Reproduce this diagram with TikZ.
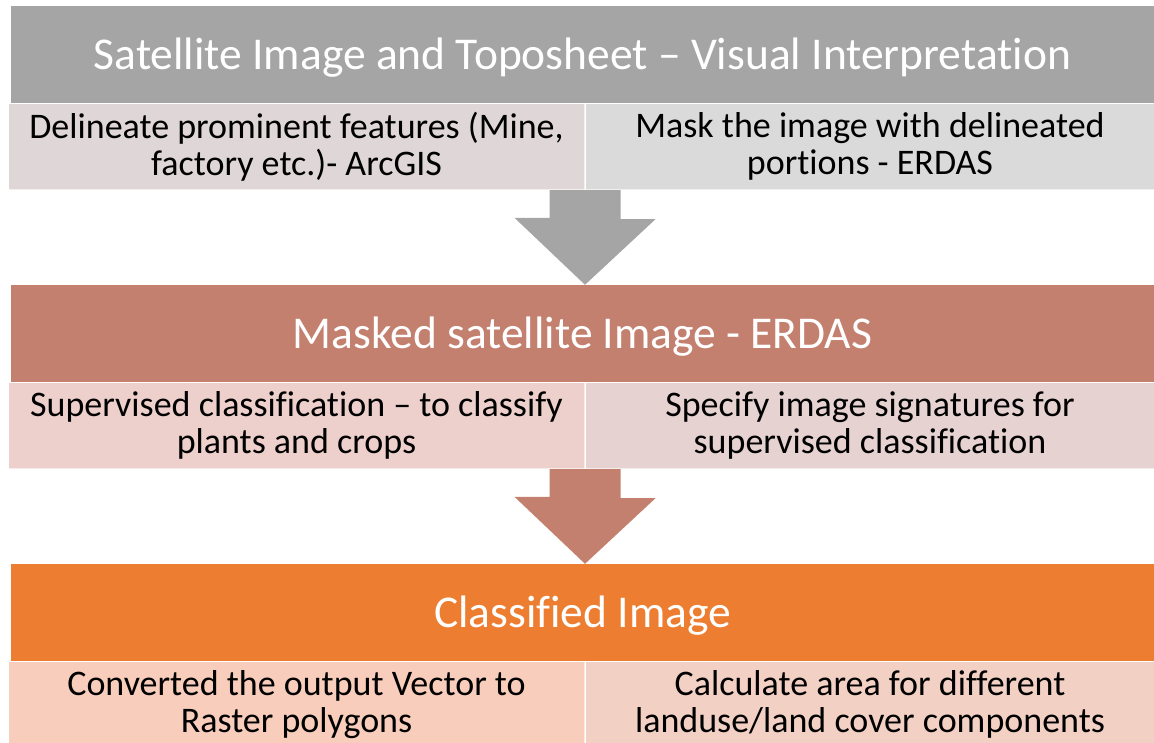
\documentclass[tikz,border=0pt]{standalone}
\usepackage{fontspec}
\setmainfont{Carlito}[Ligatures={TeX,NoCommon}]
\usetikzlibrary{positioning,calc}

\definecolor{greyhead}{HTML}{A5A5A5}
\definecolor{greyleft}{HTML}{DFD7D7}
\definecolor{greyright}{HTML}{DADADA}
\definecolor{rusthead}{HTML}{C4806F}
\definecolor{rustleft}{HTML}{EDD0CB}
\definecolor{rustright}{HTML}{E6D3D1}
\definecolor{orangehead}{HTML}{ED7D31}
\definecolor{orangeleft}{HTML}{F8CDBB}
\definecolor{orangeright}{HTML}{F2D0C4}

\begin{document}
\begin{tikzpicture}[x=1pt, y=-1pt,
  head/.style={fill=#1, text=white, minimum width=1143pt, minimum height=97pt,
    inner sep=0pt, text depth=2pt, font=\fontsize{45.5}{50}\selectfont},
  cell/.style={fill=#1, draw=white, draw opacity=0.6, line width=1pt,
    minimum height=86pt, inner sep=0pt, align=center,
    font=\fontsize{36}{37}\selectfont},
  cellL/.style={cell=#1, minimum width=576pt},
  cellR/.style={cell=#1, minimum width=569pt},
  blockarrow/.style={fill=#1}
]
\useasboundingbox (0,0) rectangle (1154,742);

% Step 1 (grey)
\node[head=greyhead] (h1) at (582.5,54.5) {Satellite Image and Toposheet – Visual Interpretation};
\node[cellL=greyleft, below left=0pt and -2.5pt of h1.south] (s1L)
  {Delineate prominent features (Mine,\\factory etc.)- ArcGIS};
\node[cellR=greyright, right=0pt of s1L] (s1R)
  {Mask the image with delineated\\portions - ERDAS};

% Step 2 (rust)
\node[head=rusthead] (h2) at (582.5,333.5) {Masked satellite Image - ERDAS};
\node[cellL=rustleft, below left=0pt and -2.5pt of h2.south] (s2L)
  {Supervised classification – to classify\\plants and crops};
\node[cellR=rustright, right=0pt of s2L] (s2R)
  {Specify image signatures for\\supervised classification};

% Step 3 (orange)
\node[head=orangehead] (h3) at (582.5,612.5) {Classified Image};
\node[cellL=orangeleft, below left=0pt and -2.5pt of h3.south] (s3L)
  {Converted the output Vector to\\Raster polygons};
\node[cellR=orangeright, right=0pt of s3L] (s3R)
  {Calculate area for different\\landuse/land cover components};

% Block arrows between the steps
\fill[blockarrow=greyhead] (s1L.south east) ++(-35.5,0) -- ++(71,0) -- ++(0,29)
  -- ++(35,0) -- (s1L.south east |- h2.north) -- ++(-70.5,-67) -- ++(35,0) -- cycle;
\fill[blockarrow=rusthead] (s2L.south east) ++(-35.5,0) -- ++(71,0) -- ++(0,29)
  -- ++(35,0) -- (s2L.south east |- h3.north) -- ++(-70.5,-67) -- ++(35,0) -- cycle;

\end{tikzpicture}
\end{document}
